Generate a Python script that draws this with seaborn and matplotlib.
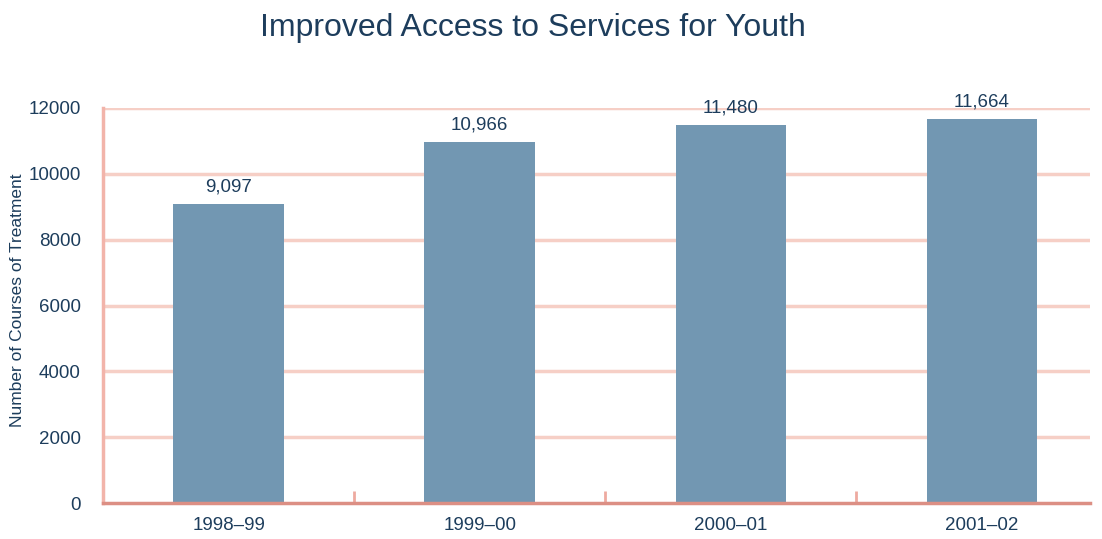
import numpy as np
import pandas as pd
import seaborn as sns
import matplotlib.pyplot as plt

# data
years = ["1998\u201399", "1999\u201300", "2000\u201301", "2001\u201302"]
courses = [9097, 10966, 11480, 11664]

df = pd.DataFrame({"year": years, "courses": courses})

sns.set_theme(style="white")
plt.rcParams['font.family'] = ['Liberation Sans', 'DejaVu Sans']

navy = "#1d3d5c"
grid_col = "#f6cfc6"
spine_col = "#dc8f84"

fig = plt.figure(figsize=(11.02, 5.39), dpi=100)
ax = fig.add_axes([103/1102, 36/539, 987/1102, 395/539])

sns.barplot(data=df, x="year", y="courses", color="#7297b2", saturation=1,
            width=0.44, linewidth=0, ax=ax, zorder=3)

ax.set_ylim(0, 12000)
ax.set_xlim(-0.5, 3.43)
ax.set_yticks(np.arange(0, 12001, 2000))
ax.tick_params(axis='y', length=0, labelsize=13.5, labelcolor=navy, pad=16)
ax.tick_params(axis='x', length=0, labelsize=13.5, labelcolor=navy, pad=10)
ax.set_xticks([-0.5, 0.5, 1.5, 2.5], minor=True)
ax.tick_params(axis='x', which='minor', bottom=True, direction='in', length=9,
               width=2, color="#eeaaa0")

for y in range(2000, 12001, 2000):
    ax.axhline(y, color=grid_col, lw=2.5, zorder=1)

for s in ["top", "right"]:
    ax.spines[s].set_visible(False)
ax.spines["left"].set_color("#f2b4aa")
ax.spines["left"].set_linewidth(2.5)
ax.spines["bottom"].set_color(spine_col)
ax.spines["bottom"].set_linewidth(2.5)
ax.spines["bottom"].set_zorder(4)

for i, v in enumerate(courses):
    ax.text(i, v + 250, f"{v:,}", ha="center", va="bottom", fontsize=13.5,
            color=navy, clip_on=False)

ax.set_xlabel("")
ax.set_ylabel("")
fig.text(18/1102, 1 - 300/539, "Number of Courses of Treatment", rotation=90,
         ha="center", va="center", fontsize=12.5, color=navy)

fig.text(533/1102, 1 - 28/539, "Improved Access to Services for Youth",
         ha="center", va="center", fontsize=23, color=navy)

fig.savefig("out.png", dpi=100)
